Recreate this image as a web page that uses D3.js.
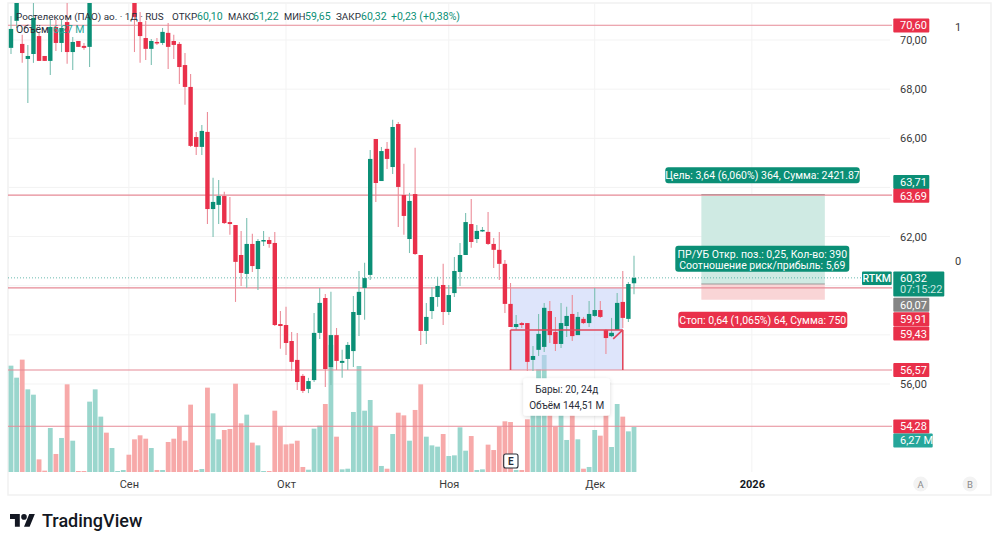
<!DOCTYPE html>
<html>
<head>
<meta charset="utf-8">
<style>
body { margin: 0; background: #fff; }
text { font-family: Roboto, sans-serif; }
</style>
<script src="https://cdnjs.cloudflare.com/ajax/libs/d3/7.8.5/d3.min.js"></script>
</head>
<body>
<script>
// daily bars, bars 15-21 sit above the visible range
var opens = [69.68,70.78,69.84,69.23,69.43,70.16,69.35,69.15,70.53,69.88,
  70.73,69.51,69.96,69.76,69.72,71.9,72.5,73.3,72.9,73.2,
  73.3,73.4,72.1,70.73,70.08,69.64,69.92,69.88,70.29,69.96,
  69.84,68.98,68.09,66.05,65.65,66.26,63.12,63.29,63.65,62.59,
  62.47,61.25,60.48,61.70,60.68,61.82,61.86,61.74,58.44,58.40,
  57.75,56.98,56.33,55.80,56.16,58.08,59.50,56.69,57.99,56.86,
  57.02,57.34,58.81,59.91,60.44,65.97,64.26,65.57,64.83,66.58,
  63.69,61.90,63.73,61.25,58.16,58.97,59.54,60.03,58.93,59.70,
  60.56,61.25,62.51,61.90,62.23,62.19,61.70,61.46,60.89,59.26,
  58.32,58.48,58.48,56.98,57.39,57.51,58.97,58.12,57.63,58.36,
  58.85,57.99,58.65,58.48,58.77,59.01,58.20,57.95,58.20,59.34,
  58.65,60.10]
var highs = [70.98,72.2,70.21,69.80,71.6,70.29,69.35,70.82,70.82,70.82,
  71.6,70.12,69.96,69.88,72.1,72.9,73.5,73.6,73.5,73.5,
  73.8,73.6,72.4,71.14,70.78,70.04,70.08,70.49,70.69,70.21,
  69.92,69.47,68.62,66.26,66.54,67.07,64.39,64.30,63.82,63.61,
  62.47,62.23,62.76,62.11,61.90,62.23,61.98,62.19,58.97,59.14,
  58.12,58.08,56.41,56.25,58.89,59.91,59.66,59.75,58.28,57.39,
  57.71,59.58,60.60,60.93,65.52,65.97,65.65,65.85,66.75,66.66,
  64.96,63.78,65.61,61.25,59.30,59.95,60.36,60.89,60.03,61.17,
  61.74,62.96,63.53,62.47,62.39,63.00,61.94,62.19,61.05,60.11,
  58.81,58.52,58.48,57.55,58.85,59.30,59.38,58.73,59.30,59.14,
  59.62,58.93,58.73,59.38,59.91,59.38,58.24,58.69,59.70,60.60,
  60.15,61.22]
var lows = [69.43,70.49,69.07,67.44,69.07,69.15,69.15,68.58,69.55,69.51,
  69.03,68.78,69.72,69.60,68.90,71.7,72.2,72.6,72.7,73.0,
  73.1,72.3,69.51,69.07,69.19,68.98,69.80,69.80,68.82,69.23,
  68.21,67.36,65.65,65.32,65.32,62.51,61.98,62.51,62.51,62.07,
  59.34,59.99,59.91,60.56,59.83,61.62,61.54,58.36,57.43,57.18,
  56.53,55.76,55.63,55.63,56.08,57.83,55.88,55.96,56.57,56.25,
  56.57,56.69,57.95,58.61,60.23,63.41,64.26,64.75,64.55,62.39,
  62.07,61.33,61.25,57.59,57.63,58.65,59.14,58.40,58.81,59.54,
  59.99,61.25,61.54,61.74,62.19,61.66,60.72,60.23,58.89,58.32,
  58.20,58.28,56.53,56.53,57.14,57.30,57.67,57.34,57.47,57.91,
  57.75,57.99,58.44,58.32,58.73,58.69,57.22,57.91,58.20,58.28,
  58.52,59.65]
var closes = [70.45,71.7,69.47,69.35,70.90,69.15,69.15,70.53,69.88,70.49,
  69.51,69.92,69.72,69.68,71.8,72.5,73.2,72.9,73.2,73.3,
  73.5,72.6,70.94,70.16,69.64,69.96,69.88,70.33,69.72,69.80,
  68.90,68.09,65.69,65.65,66.30,63.12,63.41,63.65,62.55,62.51,
  60.97,60.52,61.70,60.80,61.82,61.86,61.70,58.40,58.36,57.67,
  56.90,56.08,55.72,56.12,58.08,59.30,56.61,57.99,56.94,56.94,
  57.59,58.93,59.75,60.31,65.16,64.18,65.48,65.16,66.46,64.02,
  62.84,63.45,61.29,58.16,58.73,59.54,59.99,58.93,59.62,60.60,
  61.25,62.59,61.78,62.23,62.27,61.70,61.46,60.89,59.26,58.32,
  58.44,58.40,56.90,57.14,58.04,59.10,57.99,57.63,58.48,58.77,
  57.95,58.73,58.48,58.85,59.01,58.73,57.87,58.08,59.30,58.69,
  60.07,60.32]
// volume in millions
var volumes = [14.81,13.14,15.65,11.51,10.77,1.76,0.19,6.13,2.51,4.74,
  12.21,4.36,0.14,0.14,9.80,11.51,7.71,5.48,3.34,0.14,
  0.28,2.41,4.55,5.11,4.64,3.34,0.28,0.28,4.18,4.64,
  6.31,4.36,9.38,0.28,0.42,11.75,8.17,4.55,5.85,5.99,
  12.30,6.78,7.99,4.09,3.71,0.14,0.14,8.54,6.31,3.85,
  3.95,4.36,0.70,0.32,6.04,6.45,9.47,17.7,4.92,0.37,
  0.46,8.36,14.76,8.54,10.03,6.31,0.84,0.46,5.29,8.26,
  7.89,4.36,8.64,12.21,4.92,3.71,3.53,5.29,2.23,2.32,
  6.22,2.97,5.01,0.28,0.37,3.81,3.06,6.31,7.06,6.96,
  0.28,0.28,7.34,12.5,14.35,16.30,10,6.31,9.5,4.46,
  9.5,4.55,0.46,0.70,5.85,5.06,8.3,3.48,9.47,7.71,
  5.66,6.27]

var gridTicks = [56,58,60,62,64,66,68,70]
// 58, 60 and 64 sit under the price tags, so they get no label
var priceTicks = [56,62,66,68,70]
var monthIdx = [21,49,78,104,132]
var monthNames = ["Сен","Окт","Ноя","Дек","2026"]
var levels = [70.60,63.69,59.91,56.57,54.28]
var lastPrice = 60.32
// long position tool
var entry = 60.07, target = 63.71, stop = 59.43
var posFrom = 123, posTo = 145
// date and price range tool
var rangeFrom = 89, rangeTo = 109, rangeMid = 58.2

var width = 1000, height = 546
var red = "#e9304a", green = "#0b8f76", teal = "#26a69a", grey = "#858585"

var svg = d3.select("body").append("svg")
    .attr("width", width)
    .attr("height", height)
    .style("display", "block")

var x = d3.scaleLinear().domain([0, 111]).range([11, 634])
var y = d3.scaleLinear().domain([56, 70]).range([384, 40])
var yVol = d3.scaleLinear().domain([0, 20]).range([472, 328.4])

var bars = opens.map(function (o, i) {
  return {i: i, o: o, h: highs[i], l: lows[i], c: closes[i], v: volumes[i], up: closes[i] >= o}
})

svg.append("clipPath").attr("id", "plot").append("rect")
    .attr("x", 8).attr("y", 3).attr("width", 884).attr("height", 469)

// frame
svg.append("rect").attr("x", 8).attr("y", 3).attr("width", 983).attr("height", 492)
    .attr("fill", "none").attr("stroke", "#f1f1f1").attr("stroke-width", 1.5)

// grid
svg.append("g").selectAll("line").data(gridTicks).enter().append("line")
    .attr("x1", 8).attr("x2", 890).attr("y1", d => y(d)).attr("y2", d => y(d))
    .attr("stroke", "#f3f3f3")
svg.append("g").selectAll("line").data(monthIdx).enter().append("line")
    .attr("x1", d => x(d)).attr("x2", d => x(d)).attr("y1", 3).attr("y2", 472)
    .attr("stroke", "#f3f3f3")

// axes
var yAxis = svg.append("g")
    .attr("transform", "translate(892,0)")
    .call(d3.axisRight(y).tickValues(priceTicks).tickSize(0).tickPadding(8)
      .tickFormat(d => d3.format(".2f")(d).replace(".", ",")))
yAxis.select(".domain").remove()
yAxis.selectAll("text").attr("fill", "#3a3a3a").style("font-size", "11px").style("font-family", "Roboto")

var xAxis = svg.append("g")
    .attr("transform", "translate(0,472)")
    .call(d3.axisBottom(x).tickValues(monthIdx).tickSize(0).tickPadding(8)
      .tickFormat((d, i) => monthNames[i]))
xAxis.select(".domain").remove()
xAxis.selectAll("text").style("font-size", "11px").style("font-family", "Roboto")
  .style("font-weight", (d, i) => i == 4 ? 700 : 400)
  .attr("fill", (d, i) => i == 4 ? "#131722" : "#3a3a3a")

var plot = svg.append("g").attr("clip-path", "url(#plot)")

// volume
plot.append("g").selectAll("rect").data(bars).enter().append("rect")
    .attr("x", d => x(d.i) - 2.4)
    .attr("width", 4.8)
    .attr("y", d => yVol(d.v))
    .attr("height", d => yVol(0) - yVol(d.v))
    .attr("fill", d => d.up ? "#9ad6cd" : "#f7a9a9")

// range tool background
plot.append("rect")
    .attr("x", x(rangeFrom)).attr("width", x(rangeTo) - x(rangeFrom))
    .attr("y", y(levels[2])).attr("height", y(levels[3]) - y(levels[2]))
    .attr("fill", "#c3cff7").attr("fill-opacity", 0.55)

// long position boxes
plot.append("rect")
    .attr("x", x(posFrom)).attr("width", x(posTo) - x(posFrom))
    .attr("y", y(target)).attr("height", y(entry) - y(target))
    .attr("fill", "#cfeae3")
plot.append("rect")
    .attr("x", x(posFrom)).attr("width", x(posTo) - x(posFrom))
    .attr("y", y(entry)).attr("height", y(stop) - y(entry))
    .attr("fill", "#f9d5d6")
plot.append("g").selectAll("line").data([target, entry]).enter().append("line")
    .attr("x1", x(posFrom)).attr("x2", x(posTo))
    .attr("y1", d => y(d)).attr("y2", d => y(d))
    .attr("stroke", "#9a9a9a")

// horizontal levels
plot.append("g").selectAll("line").data(levels).enter().append("line")
    .attr("x1", 8).attr("x2", 892)
    .attr("y1", d => y(d)).attr("y2", d => y(d))
    .attr("stroke", "#e68a96").attr("stroke-width", 1.2)

plot.append("line")
    .attr("x1", 8).attr("x2", 892).attr("y1", y(lastPrice)).attr("y2", y(lastPrice))
    .attr("stroke", "#2a9d8f").attr("stroke-dasharray", "1 2").attr("stroke-opacity", 0.7)

// wicks and bodies
plot.append("g").selectAll("line").data(bars).enter().append("line")
    .attr("x1", d => x(d.i)).attr("x2", d => x(d.i))
    .attr("y1", d => y(d.h)).attr("y2", d => y(d.l))
    .attr("stroke", d => d.up ? "#7cc0b3" : "#ec8d99")
    .attr("stroke-width", 1.1)
plot.append("g").selectAll("rect").data(bars).enter().append("rect")
    .attr("x", d => x(d.i) - 2.2)
    .attr("width", 4.4)
    .attr("y", d => y(Math.max(d.o, d.c)))
    .attr("height", d => Math.max(1.5, Math.abs(y(d.o) - y(d.c))))
    .attr("fill", d => d.up ? green : red)

// range tool lines, drawn over the candles
var rangeG = svg.append("g").attr("stroke", "#e2475c").attr("stroke-width", 1.6).attr("fill", "none")
rangeG.append("line").attr("x1", x(rangeFrom)).attr("x2", x(rangeFrom)).attr("y1", y(rangeMid)).attr("y2", y(levels[3]))
rangeG.append("line").attr("x1", x(rangeTo)).attr("x2", x(rangeTo)).attr("y1", y(rangeMid)).attr("y2", y(levels[3]))
rangeG.append("line").attr("x1", x(rangeFrom)).attr("x2", x(rangeTo)).attr("y1", y(rangeMid)).attr("y2", y(rangeMid))
rangeG.append("line").attr("x1", x(rangeTo - 1.7)).attr("x2", x(rangeTo)).attr("y1", y(rangeMid - 0.36)).attr("y2", y(rangeMid))

// a candle sits on top of the small arrow in the picture
svg.append("rect").attr("x", x(107) - 2.2).attr("width", 4.4)
    .attr("y", y(closes[107])).attr("height", y(opens[107]) - y(closes[107])).attr("fill", green)

// header
var head = [
  [16, "Ростелеком (ПАО) ао. · 1Д · RUS", "#2a2e39", 9.9],
  [172, "ОТКР", "#2a2e39", 9.9], [197, "60,10", green, 10.5],
  [228, "МАКС", "#2a2e39", 9.4], [253, "61,22", green, 10.5],
  [284, "МИН", "#2a2e39", 9.4], [305, "59,65", green, 10.5],
  [336, "ЗАКР", "#2a2e39", 9.9], [361, "60,32", green, 10.5],
  [391, "+0,23 (+0,38%)", green, 10.5]
]
svg.append("g").selectAll("text").data(head).enter().append("text")
    .attr("x", d => d[0]).attr("y", 20)
    .attr("fill", d => d[2])
    .style("font-size", d => d[3] + "px")
    .text(d => d[1])
svg.append("text").attr("x", 16).attr("y", 33).attr("fill", "#2a2e39").style("font-size", "10.5px").text("Объём")
svg.append("text").attr("x", 53).attr("y", 33).attr("fill", teal).style("font-size", "10.5px").text("6,27 M")

// price tags on the right
function tag(price, dy, label, fill, w) {
  var cy = y(price) + dy
  svg.append("rect").attr("x", 893.3).attr("y", cy - 7).attr("width", w || 36).attr("height", 14)
      .attr("rx", 1).attr("fill", fill)
  svg.append("text").attr("x", 900).attr("y", cy + 4).attr("fill", "#fff")
      .style("font-size", "11px").text(label)
}
tag(levels[0], 0.2, "70,60", red)
tag(target, -12.6, "63,71", green)
tag(levels[1], 0.6, "63,69", red)
tag(entry, 20.7, "60,07", grey)
tag(levels[2], 31.2, "59,91", red)
tag(stop, 33.8, "59,43", red)
tag(levels[3], 0, "56,57", red)
tag(levels[4], 0.2, "54,28", red)
tag(levels[4], 14.2, "6,27 M", teal, 39.4)

// last price tag with countdown
svg.append("rect").attr("x", 893.3).attr("y", y(lastPrice) - 6.4).attr("width", 51).attr("height", 25).attr("rx", 1).attr("fill", green)
svg.append("text").attr("x", 900).attr("y", y(lastPrice) + 4).attr("fill", "#fff").style("font-size", "11px").text("60,32")
svg.append("text").attr("x", 900).attr("y", y(lastPrice) + 15.5).attr("fill", "#c9e8e1").style("font-size", "11px").text("07:15:22")
svg.append("rect").attr("x", 862).attr("y", y(lastPrice) - 6.4).attr("width", 29.7).attr("height", 13.5).attr("rx", 1).attr("fill", green)
svg.append("text").attr("x", 876.8).attr("y", y(lastPrice) + 4.2).attr("fill", "#fff").attr("text-anchor", "middle").style("font-size", "10.5px").style("font-weight", 500).text("RTKM")

svg.append("text").attr("x", 958).attr("y", 31).attr("fill", "#3a3a3a").attr("text-anchor", "middle").style("font-size", "11px").text("1")
svg.append("text").attr("x", 958).attr("y", 265).attr("fill", "#3a3a3a").attr("text-anchor", "middle").style("font-size", "11px").text("0")

// position labels
function note(cx, top, w, h, fill, lines) {
  svg.append("rect").attr("x", cx - w / 2).attr("y", top).attr("width", w).attr("height", h)
      .attr("rx", 3).attr("fill", fill)
  lines.forEach(function (t, i) {
    svg.append("text").attr("x", cx).attr("y", top + 12 + i * 11)
        .attr("text-anchor", "middle").attr("fill", "#fff")
        .style("font-size", "10.5px").text(t)
  })
}
note(762.5, 167.3, 194.4, 16, green, ["Цель: 3,64 (6,060%) 364, Сумма: 2421.87"])
note(762.3, 245.7, 174, 26, green, ["ПР/УБ Откр. поз.: 0,25, Кол-во: 390", "Соотношение риск/прибыль: 5,69"])
note(762.8, 311.7, 169, 16.3, red, ["Стоп: 0,64 (1,065%) 64, Сумма: 750"])

// range tooltip
var shadow = svg.append("filter").attr("id", "soft").attr("x", "-20%").attr("y", "-20%").attr("width", "140%").attr("height", "140%")
shadow.append("feDropShadow").attr("dx", 0).attr("dy", 1).attr("stdDeviation", 2).attr("flood-color", "#000").attr("flood-opacity", 0.15)
svg.append("rect").attr("x", 523.3).attr("y", 378.3).attr("width", 86.7).attr("height", 37.4)
    .attr("rx", 3).attr("fill", "#fff").attr("filter", "url(#soft)")
svg.append("text").attr("x", 566.7).attr("y", 393).attr("text-anchor", "middle").attr("fill", "#2a2e39").style("font-size", "10px").text("Бары: 20, 24д")
svg.append("text").attr("x", 566.7).attr("y", 409).attr("text-anchor", "middle").attr("fill", "#2a2e39").style("font-size", "10px").text("Объём 144,51 M")

// earnings marker
svg.append("rect").attr("x", 503.7).attr("y", 454).attr("width", 14.3).attr("height", 14).attr("rx", 2)
    .attr("fill", "#fff").attr("stroke", "#2a2e39").attr("stroke-width", 1.1)
svg.append("text").attr("x", 510.8).attr("y", 465).attr("text-anchor", "middle").attr("fill", "#2a2e39")
    .style("font-size", "10px").style("font-weight", 700).text("E")

// scale buttons
var buttons = svg.append("g").selectAll("g").data([[920.7, "A"], [970, "B"]]).enter().append("g")
buttons.append("circle").attr("cx", d => d[0]).attr("cy", 484).attr("r", 7.5).attr("fill", "#f3f3f3")
buttons.append("text").attr("x", d => d[0]).attr("y", 487.5).attr("text-anchor", "middle").attr("fill", "#8a8a8a")
    .style("font-size", "9.5px").text(d => d[1])

// logo
var logo = svg.append("g").attr("transform", "translate(10,511.3) scale(0.7)").attr("fill", "#131722")
logo.append("path").attr("d", "M14 22H7V11H0V4h14v18zM28 22h-8l7.5-18h8L28 22z")
logo.append("circle").attr("cx", 20).attr("cy", 8).attr("r", 4)
svg.append("text").attr("x", 42).attr("y", 527).attr("fill", "#131722")
    .style("font-size", "18px").style("font-weight", 500).text("TradingView")
</script>
</body>
</html>
